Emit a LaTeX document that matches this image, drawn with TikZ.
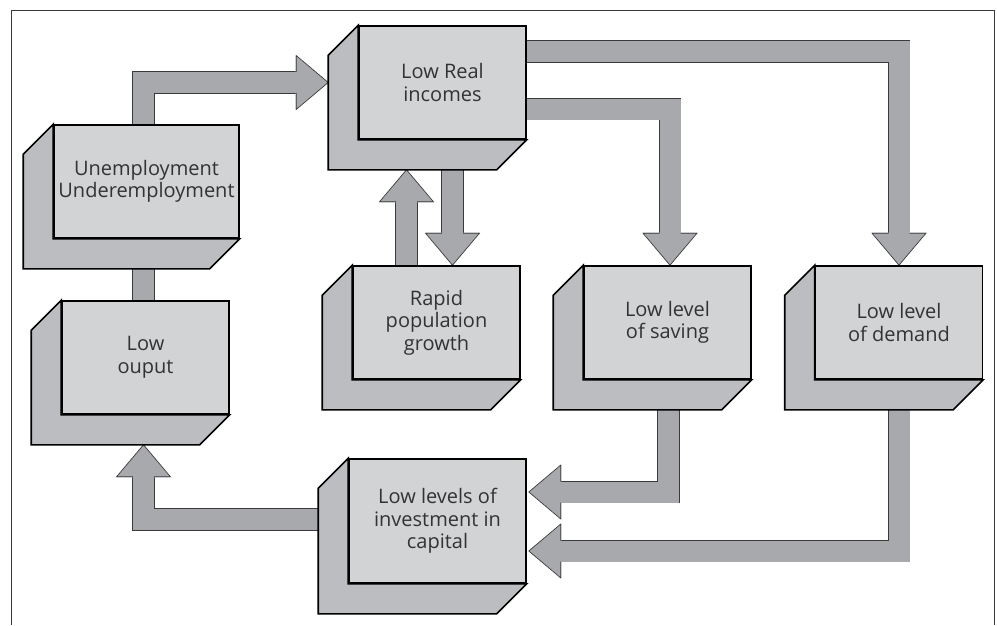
\documentclass[tikz,border=0pt]{standalone}
\usepackage{fontspec}
\setmainfont{Open Sans}
\usetikzlibrary{backgrounds}

\definecolor{facegray}{HTML}{D1D3D4}
\definecolor{backgray}{HTML}{BCBDC0}
\definecolor{arrowgray}{HTML}{A7A9AC}
\definecolor{edgegray}{HTML}{3A3A3A}

% back part of a box, offset down-left
\newcommand\boxback[1]{%
  \filldraw[backface] (#1.north west) -- ++(-30,30)
    -- ([shift={(-30pt,-30pt)}]#1.south west)
    -- ([shift={(-30pt,-30pt)}]#1.south east)
    -- (#1.south east) -- (#1.south west) -- cycle;}

\begin{document}
\begin{tikzpicture}[x=1pt, y=-1pt,
    front/.style={draw=black, line width=1.6pt, fill=facegray,
      minimum width=167pt, minimum height=113pt, inner sep=0pt,
      align=center, text=black!80, font=\fontsize{20}{22.5}\selectfont},
    backface/.style={draw=black, line width=1.6pt, fill=backgray},
    shaft/.style={draw=arrowgray, line width=21pt,
      preaction={draw=edgegray, line width=22.4pt}},
    pics/fathead/.style={code={
      \fill[arrowgray] (0.2,0) -- (-32.5,27) -- (-32.5,-27) -- cycle;
      \draw[edgegray, line width=0.7pt]
        (-32,-10.5) -- (-32,-27) -- (0,0) -- (-32,27) -- (-32,10.5);}}]

  \useasboundingbox (0,0) rectangle (997,625);

  % frame
  \draw[edgegray, line width=0.9pt] (11,625) -- (11,10) -- (994,10) -- (994,625);

  % boxes
  \node[front, minimum width=185pt] (unemp) at (146.5,181.5) {Unemployment\\Underemployment};
  \node[front] (income) at (442.5,82.5) {Low Real\\incomes};
  \node[front] (rapid)  at (436.5,322.5) {Rapid\\population\\growth};
  \node[front] (saving) at (667.5,322.5) {Low level\\of saving};
  \node[front] (demand) at (899,322.5) {Low level\\of demand};
  \node[front] (output) at (145.5,357.5) {Low\\ouput};
  \node[front, minimum width=177pt, minimum height=124pt] (invest) at (437.5,521)
    {Low levels of\\investment in\\capital};

  % arrow tips
  \coordinate (t1) at ([xshift=-30pt]income.west);
  \coordinate (t4) at ([xshift=16pt]rapid.north);
  \coordinate (t5) at ([xshift=-36pt, yshift=-30pt]income.south);
  \coordinate (t6) at ([xshift=2pt, yshift=29pt]invest.east);
  \coordinate (t7) at ([xshift=2pt, yshift=-30pt]invest.east);
  \coordinate (t8) at ([xshift=-2pt, yshift=-30pt]output.south);

  \begin{pgfonlayer}{background}
    % arrows
    \draw[shaft] ([xshift=-3pt]unemp.north) |- ([xshift=-32pt]t1);
    \pic at (t1) {fathead};

    \draw[shaft] ([yshift=31pt]income.east) -| ([yshift=32pt]demand.north);
    \pic[rotate=-90] at (demand.north) {fathead};

    \draw[shaft] ([yshift=-26.5pt]income.east) -| ([xshift=2.5pt, yshift=32pt]saving.north);
    \pic[rotate=-90] at ([xshift=2.5pt]saving.north) {fathead};

    \draw[shaft] (t4 |- income.south) -- ([yshift=32pt]t4);
    \pic[rotate=-90] at (t4) {fathead};

    \draw[shaft] (t5 |- rapid.north) -- ([yshift=-32pt]t5);
    \pic[rotate=90] at (t5) {fathead};

    \draw[shaft] ([xshift=1pt]saving.south) |- ([xshift=32pt]t6);
    \pic[rotate=180] at (t6) {fathead};

    \draw[shaft] (demand.south) |- ([xshift=32pt]t7);
    \pic[rotate=180] at (t7) {fathead};

    \draw[shaft] ([yshift=1.5pt]invest.west) -| ([yshift=-32pt]t8);
    \pic[rotate=90] at (t8) {fathead};

    \draw[shaft] (t8 |- unemp.south) -- (t8 |- output.north);

    % back faces
    \foreach \b in {unemp, income, rapid, saving, demand, output, invest}
      \boxback{\b};
  \end{pgfonlayer}

\end{tikzpicture}
\end{document}
